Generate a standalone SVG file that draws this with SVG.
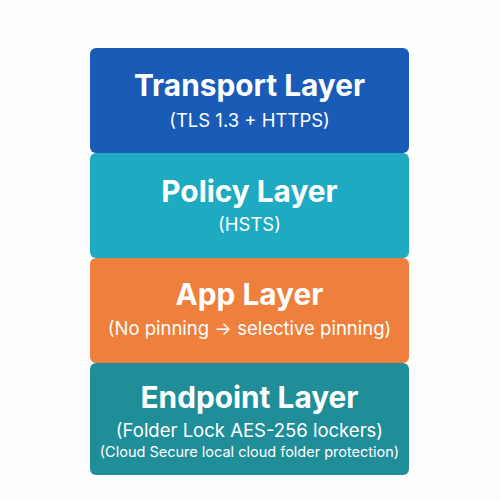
<svg xmlns="http://www.w3.org/2000/svg" width="500" height="500" viewBox="0 0 500 500">
<style>
.t{font-family:Inter,"Noto Sans",sans-serif;font-weight:700;font-size:29.8px;fill:#fff;text-anchor:middle}
.s{font-family:Inter,"Noto Sans",sans-serif;font-weight:400;font-size:18.5px;fill:#fff;text-anchor:middle}
.s2{font-family:Inter,"Noto Sans",sans-serif;font-weight:400;font-size:14.5px;fill:#fff;text-anchor:middle}
</style>
<rect width="500" height="500" fill="#fefefe"/>
<g id="transport"><rect x="90" y="48" width="319" height="105" rx="6" fill="#1A5BB8"/>
<text class="t" x="249.5" y="96">Transport Layer</text><text class="s" x="249.5" y="127">(TLS 1.3 + HTTPS)</text></g>
<g id="policy"><rect x="90" y="153" width="319" height="105" rx="6" fill="#1EAAC0"/>
<text class="t" x="249.5" y="202">Policy Layer</text><text class="s" x="249.5" y="231">(HSTS)</text></g>
<g id="app"><rect x="90" y="258" width="319" height="105" rx="6" fill="#EE7F3C"/>
<text class="t" x="249.5" y="305">App Layer</text><text class="s" x="249.5" y="335">(No pinning → selective pinning)</text></g>
<g id="endpoint"><rect x="90" y="363" width="319" height="112" rx="6" fill="#208E99"/>
<text class="t" x="249.5" y="408">Endpoint Layer</text><text class="s" x="249.5" y="437">(Folder Lock AES-256 lockers)</text><text class="s2" x="249.5" y="457">(Cloud Secure local cloud folder protection)</text></g>
<g id="connectors"/>
</svg>
